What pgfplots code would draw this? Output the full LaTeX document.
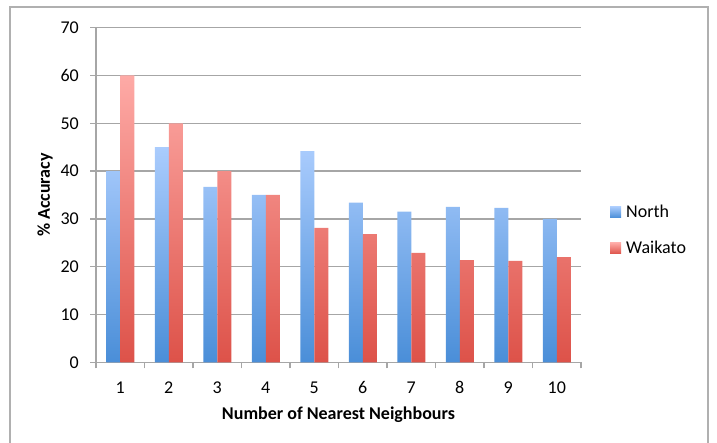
\documentclass[border=0pt]{standalone}
\usepackage{pgfplots}
\pgfplotsset{compat=1.18}
\usepackage{fontspec}
\setmainfont{Carlito}
\definecolor{gridgray}{HTML}{A6A6A6}
\definecolor{framegray}{HTML}{B0B0B0}
\definecolor{ntop}{HTML}{AACCFD}
\definecolor{nbot}{HTML}{4A8ED8}
\definecolor{wtop}{HTML}{FEAAA6}
\definecolor{wbot}{HTML}{DD5249}
\pgfplotsset{sqlegend/.style={legend image code/.code={\path[##1] (0pt,-5.5pt) rectangle (11pt,5.5pt);}}}
\begin{document}
\fontsize{18}{21}\selectfont
\begin{tikzpicture}
\path[use as bounding box] (0,0) rectangle (717pt,443pt);
\draw[framegray, line width=1.2pt] (10pt,-10pt) -- (10pt,436pt) -- (708pt,436pt) -- (708pt,-10pt);
\begin{axis}[
  at={(96pt,80.7pt)}, anchor=south west,
  scale only axis, width=485pt, height=334.6pt,
  ybar, bar width=14pt, ybar=0pt,
  ymin=0, ymax=70, ytick={0,10,...,70},
  xmin=0.5, xmax=10.5,
  xtick={1,...,10},
  minor xtick={0.5,1.5,...,10.5},
  major x tick style={draw=none},
  axis x line*=bottom, axis y line*=left,
  axis line style={gridgray, line width=1.3pt},
  tick style={gridgray, line width=1.3pt},
  tick align=outside,
  major tick length=6pt, minor tick length=6pt,
  ymajorgrids, major grid style={gridgray, line width=1.3pt},
  /pgf/number format/assume math mode=true,
  ticklabel style={font=\fontsize{18}{21}\selectfont},
  yticklabel style={inner sep=0pt, anchor=east},
  yticklabel shift=11pt,
  xticklabel style={inner sep=0pt, anchor=base},
  xticklabel shift=25pt,
  xlabel={\bfseries Number of Nearest Neighbours},
  ylabel={\bfseries \% Accuracy},
  xlabel style={at={(axis description cs:0.5,-0.1554)}, anchor=center},
  ylabel style={at={(axis description cs:-0.1052,0.5)}, anchor=center},
  legend style={draw=none, fill=none, inner sep=0pt,
    at={(axis description cs:1.0598,0.475)}, anchor=north west,
    font=\fontsize{18}{21}\selectfont, row sep=19pt,
    nodes={inner sep=1pt},
    /tikz/every odd column/.append style={column sep=4pt}},
  legend cell align=left,
]
\addplot[draw=none, top color=ntop, bottom color=nbot, sqlegend] coordinates {
(1,40) (2,45) (3,36.7) (4,35) (5,44.2) (6,33.4) (7,31.5) (8,32.5) (9,32.3) (10,30)};
\addplot[draw=none, top color=wtop, bottom color=wbot, sqlegend] coordinates {
(1,60) (2,50) (3,40) (4,35) (5,28.1) (6,26.8) (7,22.9) (8,21.4) (9,21.2) (10,22)};
\legend{North, Waikato}
\end{axis}
\end{tikzpicture}
\end{document}
